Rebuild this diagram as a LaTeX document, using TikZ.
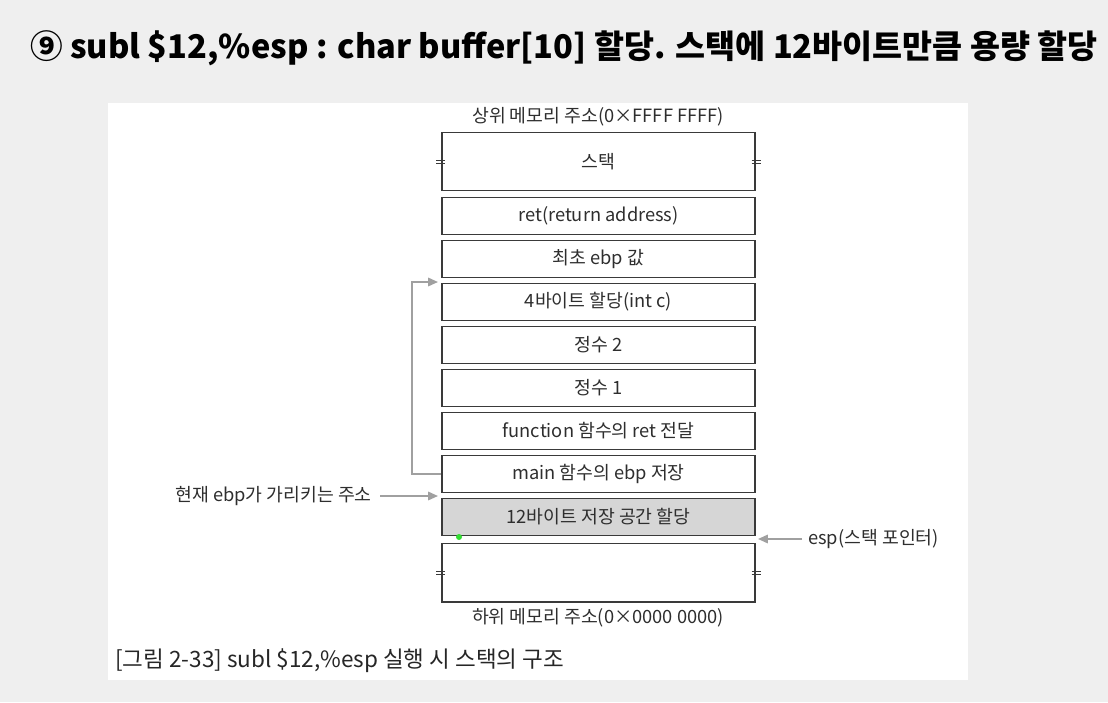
\documentclass[tikz,border=0pt]{standalone}
\usepackage{fontspec}
\setmainfont{Noto Sans CJK KR}
\usetikzlibrary{arrows.meta,calc}
\definecolor{pagegray}{HTML}{EFEFEF}
\definecolor{inkgray}{HTML}{2E2E2E}
\definecolor{boxline}{HTML}{3A3A3A}
\definecolor{arrowgray}{HTML}{A0A0A0}
\definecolor{buffill}{HTML}{D6D6D6}
\definecolor{dotgreen}{HTML}{33DD33}
\tikzset{
	cell/.style={draw=boxline, line width=1.4pt, minimum width=7.825cm, minimum height=0.925cm, inner sep=0pt, text=inkgray, font=\fontsize{13}{15}\selectfont},
	tallcell/.style={cell, minimum height=1.45cm},
	note/.style={text=inkgray, inner sep=0pt, font=\fontsize{13}{15}\selectfont},
	pointer/.style={draw=arrowgray, line width=1.2pt, -{Triangle[length=7pt,width=6pt]}},
}
\def\breakmark(#1){\draw[boxline, line width=0.7pt] ($(#1)+(-4.5,-1.5)$) -- ++(9,0) ($(#1)+(-4.5,1.5)$) -- ++(9,0);}

\begin{document}
\begin{tikzpicture}[x=0.025cm, y=-0.025cm]
		%%%%% START %%%%%
		
		\useasboundingbox[fill=pagegray] (0, 0) rectangle (1108, 702);
		\fill[white] (108, 103) rectangle (968, 680);
		
		\node[inner sep=0pt, font=\fontsize{23.2}{27}\selectfont\bfseries] (title) at (564, 48) {⑨ subl \$12,\%esp : char buffer[10] 할당. 스택에 12바이트만큼 용량 할당};
		
		\node[note] (high) at (598, 117) {상위 메모리 주소(0×FFFF FFFF)};
		
		\node[tallcell] (stack) at (598.5, 161.5) {스택};
		\node[cell] (ret) at (598.5, 216) {ret(return address)};
		\node[cell] (oldebp) at (598.5, 259) {최초 ebp 값};
		\node[cell] (intc) at (598.5, 302) {4바이트 할당(int c)};
		\node[cell] (numtwo) at (598.5, 345) {정수 2};
		\node[cell] (numone) at (598.5, 388) {정수 1};
		\node[cell] (fnret) at (598.5, 431) {function 함수의 ret 전달};
		\node[cell] (mainebp) at (598.5, 474) {main 함수의 ebp 저장};
		\node[cell, fill=buffill] (buf) at (598.5, 517) {12바이트 저장 공간 할당};
		\node[tallcell] (low) at (598.5, 572.5) {};
		
		\node[note] (lowlabel) at (598, 618) {하위 메모리 주소(0×0000 0000)};
		
		\breakmark(stack.west)
		\breakmark(stack.east)
		\breakmark(low.west)
		\breakmark(low.east)
		
		% saved ebp points back up
		\coordinate (turn) at (412, 474);
		\coordinate (savedtip) at (438, 282);
		\draw[pointer] (mainebp.west) -- (turn) |- (savedtip);
		
		\node[note, anchor=east] (curebp) at (372, 496) {현재 ebp가 가리키는 주소};
		\coordinate (ebptip) at (438, 496);
		\draw[pointer] ([xshift=0.2cm]curebp.east) -- (ebptip);
		
		\node[note, anchor=west] (esp) at (808, 539) {esp(스택 포인터)};
		\coordinate (esptip) at (758, 539);
		\draw[pointer] ([xshift=-0.15cm]esp.west) -- (esptip);
		
		\fill[dotgreen] (459, 537) circle[radius=0.075cm];
		
		\node[note, anchor=west, text=black!85, font=\fontsize{16}{19}\selectfont] (caption) at (115, 661) {[그림 2-33] subl \$12,\%esp 실행 시 스택의 구조};
		
		%%%%% END %%%%%
\end{tikzpicture}
\end{document}
